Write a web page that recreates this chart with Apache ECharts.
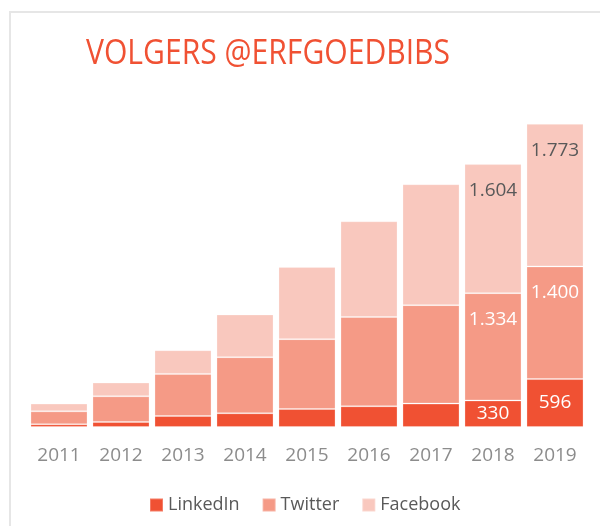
<!DOCTYPE html>
<html>
<head>
<meta charset="utf-8">
<script src="https://cdn.jsdelivr.net/npm/echarts@6/dist/echarts.min.js"></script>
<style>
  html, body { margin: 0; padding: 0; background: #fff; }
  #chart { width: 600px; height: 526px; }
</style>
</head>
<body>
<div id="chart"></div>
<script>
// jaren
const years = ['2011', '2012', '2013', '2014', '2015', '2016', '2017', '2018', '2019'];
// volgers per kanaal
const linkedin = [34, 62, 137, 171, 224, 258, 291, 330, 596];
const twitter = [161, 320, 523, 697, 868, 1109, 1224, 1334, 1400];
const facebook = [96, 171, 295, 531, 896, 1191, 1503, 1604, 1773];
// alleen deze jaren krijgen een label
const labelYears = ['2018', '2019'];

const colors = ['#f05133', '#f59a86', '#f9c8be'];

// 1604 -> 1.604
function fmt(v) {
  return String(v).replace(/\B(?=(\d{3})+(?!\d))/g, '.');
}

function labelFormatter(p) {
  return labelYears.indexOf(p.name) > -1 ? fmt(p.value) : '';
}

function makeSeries(name, data, color, label) {
  return {
    name: name,
    type: 'bar',
    stack: 'total',
    barCategoryGap: '8%',
    data: data,
    itemStyle: {
      color: color,
      borderColor: 'rgba(255,255,255,0.25)',
      borderWidth: 1,
    },
    label: Object.assign({
      show: true,
      formatter: labelFormatter,
      fontFamily: 'Open Sans',
      fontSize: 19,
    }, label),
    emphasis: { disabled: true },
  };
}

const myChart = echarts.init(document.getElementById('chart'));

const option = {
  animation: false,
  graphic: [
    {
      type: 'rect',
      shape: { x: 10, y: 12, width: 620, height: 540 },
      style: { fill: 'none', stroke: '#e6e6e6', lineWidth: 2 },
      silent: true,
      z: -1,
    },
    // titel, iets smaller gemaakt
    {
      type: 'text',
      x: 86,
      y: 37,
      scaleX: 0.86,
      style: {
        text: 'VOLGERS @ERFGOEDBIBS',
        fill: '#f05133',
        font: '35px "Open Sans"',
      },
      silent: true,
    },
  ],
  legend: {
    bottom: 7,
    left: 144,
    itemWidth: 13,
    itemHeight: 13,
    itemGap: 22,
    icon: 'rect',
    textStyle: {
      color: '#595959',
      fontFamily: 'Open Sans',
      fontSize: 18,
    },
  },
  grid: {
    left: 28,
    right: 14,
    top: 65,
    bottom: 99,
  },
  xAxis: {
    type: 'category',
    data: years,
    axisLine: { show: false },
    axisTick: { show: false },
    axisLabel: {
      color: '#8c8c8c',
      fontFamily: 'Open Sans',
      fontSize: 19,
      margin: 19,
    },
  },
  yAxis: {
    type: 'value',
    min: 0,
    max: 4500,
    show: false,
    splitLine: { show: false },
  },
  series: [
    makeSeries('LinkedIn', linkedin, colors[0], { position: 'inside', color: '#fff' }),
    makeSeries('Twitter', twitter, colors[1], { position: 'insideTop', distance: 17, color: '#fff' }),
    makeSeries('Facebook', facebook, colors[2], { position: 'insideTop', distance: 17, color: '#595959' }),
  ],
};

myChart.setOption(option);
</script>
</body>
</html>
